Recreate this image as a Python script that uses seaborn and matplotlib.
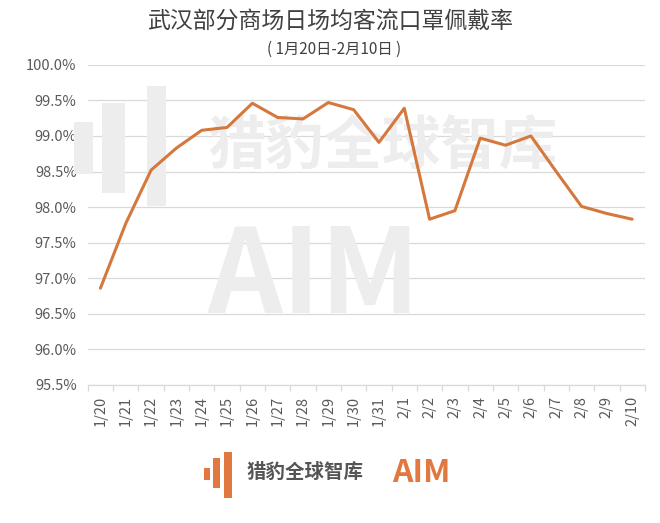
import numpy as np
import pandas as pd
import matplotlib.pyplot as plt
import seaborn as sns
from matplotlib.patches import Rectangle
from matplotlib.ticker import FuncFormatter, MultipleLocator

# Daily mask-wearing rate, Wuhan malls (percent)
dates = ["1/20", "1/21", "1/22", "1/23", "1/24", "1/25", "1/26", "1/27", "1/28", "1/29",
         "1/30", "1/31", "2/1", "2/2", "2/3", "2/4", "2/5", "2/6", "2/7", "2/8", "2/9", "2/10"]
rates = [96.86, 97.77, 98.52, 98.83, 99.08, 99.12, 99.46, 99.26, 99.24, 99.47,
         99.37, 98.91, 99.39, 97.83, 97.95, 98.97, 98.87, 99.00, 98.50, 98.01, 97.91, 97.83]

df = pd.DataFrame({"date": dates, "rate": rates})

sns.set_theme(style="white")
plt.rcParams['font.family'] = ['Noto Sans CJK SC', 'DejaVu Sans']

line_color = '#D5783E'
text_color = '#595959'
grid_color = '#D9D9D9'
wm_color = '#EDEDED'
logo_orange = '#E07840'

fig = plt.figure(figsize=(6.6, 5.23), dpi=100)
ax = fig.add_axes([0.133, 0.264, 0.844, 0.612])

sns.lineplot(data=df, x="date", y="rate", color=line_color, linewidth=2.2, ax=ax, zorder=3)

ax.set_xlim(-0.5, len(dates) - 0.5)
ax.set_ylim(95.5, 100.0)
ax.yaxis.set_major_locator(MultipleLocator(0.5))
ax.yaxis.set_major_formatter(FuncFormatter(lambda v, p: f"{v:.1f}%"))
ax.grid(axis='y', color=grid_color, linewidth=0.9, zorder=0)
ax.set_axisbelow(True)
for s in ['top', 'right', 'left']:
    ax.spines[s].set_visible(False)
ax.spines['bottom'].set_color(grid_color)
ax.spines['bottom'].set_linewidth(0.9)

ax.set_xticks(range(len(dates)))
ax.set_xticklabels(dates, rotation=90)
ax.set_xticks(np.arange(-0.5, len(dates), 1), minor=True)
ax.tick_params(axis='x', which='major', length=0, pad=8, labelsize=10.5, labelcolor=text_color)
ax.tick_params(axis='x', which='minor', length=4, color=grid_color, width=0.9, bottom=True)
ax.tick_params(axis='y', length=0, pad=8, labelsize=10.5, labelcolor=text_color)
ax.set_xlabel("")
ax.set_ylabel("")

# watermark
for x0, y0, w, h in [(-0.024, 0.66, 0.034, 0.16), (0.025, 0.6, 0.042, 0.28),
                     (0.106, 0.56, 0.034, 0.375)]:
    ax.add_patch(Rectangle((x0, y0), w, h, transform=ax.transAxes,
                           color=wm_color, zorder=1, lw=0, clip_on=False))
ax.text(0.53, 0.74, "猎豹全球智库", transform=ax.transAxes, ha='center', va='center',
        fontsize=42, fontweight='bold', color=wm_color, zorder=1)
ax.text(0.405, 0.33, "AIM", transform=ax.transAxes, ha='center', va='center',
        fontsize=84, fontweight='bold', color=wm_color, zorder=1)

# titles
fig.text(0.5, 0.96, "武汉部分商场日场均客流口罩佩戴率", ha='center', va='center',
         fontsize=16.5, color='#404040')
fig.text(0.506, 0.906, "( 1月20日-2月10日 )", ha='center', va='center',
         fontsize=11, color='#404040')

# bottom logo
for x0, y0, w, h in [(0.309, 0.082, 0.009, 0.023), (0.323, 0.067, 0.010, 0.057),
                     (0.339, 0.048, 0.012, 0.088)]:
    fig.patches.append(Rectangle((x0, y0), w, h, transform=fig.transFigure,
                                 color=logo_orange, lw=0))
fig.text(0.374, 0.096, "猎豹全球智库", ha='left', va='center', fontsize=14,
         fontweight='bold', color='#555555')
fig.text(0.594, 0.096, "AIM", ha='left', va='center', fontsize=23,
         fontweight='bold', color=logo_orange)

fig.savefig("out.png", dpi=100)
